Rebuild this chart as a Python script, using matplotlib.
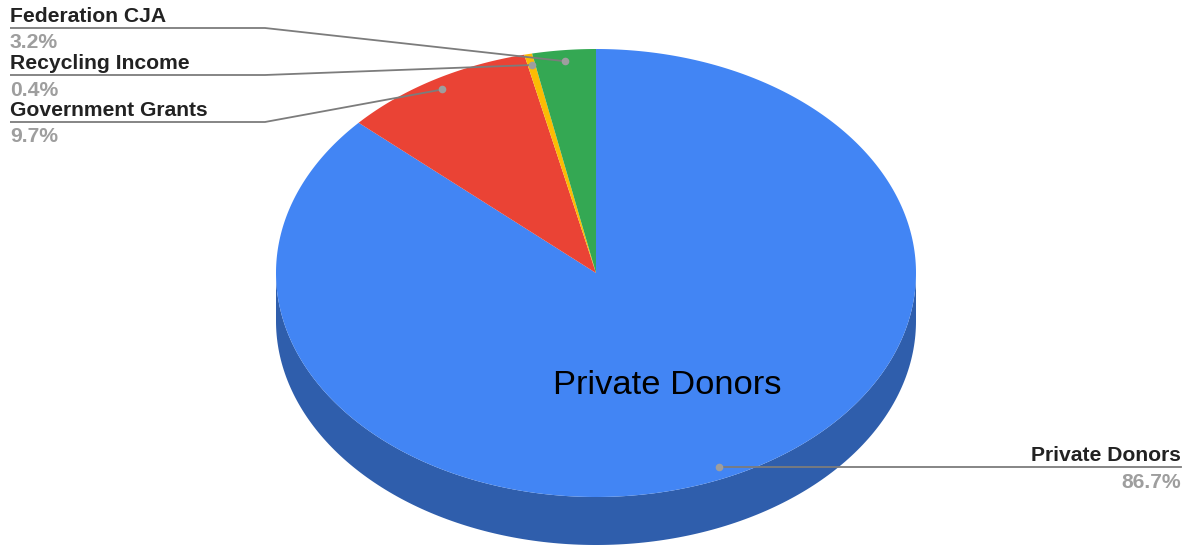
import numpy as np
import matplotlib.pyplot as plt
from matplotlib.patches import Polygon

# Funding sources, share of total income (%)
labels = ['Private Donors', 'Government Grants', 'Recycling Income', 'Federation CJA']
shares = [86.7, 9.7, 0.4, 3.2]

colors = ['#4285f4', '#ea4335', '#fbbc04', '#34a853']
side_colors = ['#2f5eac', '#a52f25', '#b28503', '#25773b']

W, H = 1191, 548
cx, cy = 596, 273          # centre of the top face (pixels)
rx, ry = 320, 224          # ellipse radii
depth = 48                 # thickness of the disc

fig = plt.figure(figsize=(W / 100, H / 100), dpi=100)
ax = fig.add_axes([0, 0, 1, 1])
ax.set_xlim(0, W)
ax.set_ylim(H, 0)
ax.axis('off')

FONT = 'Liberation Sans'


def rim(t, f=1.0, dy=0.0):
    return cx + f * rx * np.cos(t), cy - f * ry * np.sin(t) + dy


fracs = np.array(shares) / sum(shares)
ends = np.radians(90 - 360 * np.cumsum(fracs))
starts = np.concatenate([[np.pi / 2], ends[:-1]])
mids = (starts + ends) / 2

# side wall: only the front half of the disc is visible
for s, e, c in zip(starts, ends, side_colors):
    for k in (-1, 0, 1):
        lo = max(e, -np.pi + 2 * np.pi * k)
        hi = min(s, 2 * np.pi * k)
        if hi <= lo:
            continue
        t = np.linspace(lo, hi, 200)
        x1, y1 = rim(t)
        x2, y2 = rim(t[::-1], dy=depth)
        pts = np.column_stack([np.r_[x1, x2], np.r_[y1, y2]])
        ax.add_patch(Polygon(pts, closed=True, fc=c, ec='none', zorder=1))

# top face wedges
for s, e, c in zip(starts, ends, colors):
    t = np.linspace(s, e, 400)
    x, y = rim(t)
    pts = np.column_stack([np.r_[cx, x], np.r_[cy, y]])
    ax.add_patch(Polygon(pts, closed=True, fc=c, ec='none', zorder=2))

# label inside the large slice
for lab, v, m in zip(labels, shares, mids):
    if v >= 20:
        tx, ty = rim(m, f=0.55)
        ax.text(tx, ty, lab, fontsize=24.8, family=FONT, color='#000000',
                ha='center', va='center', zorder=5)

# leader lines with labels
left_rows = {'Federation CJA': 28, 'Recycling Income': 75, 'Government Grants': 122}
line_c = '#7c7c7c'
dot_c = '#9e9e9e'
for lab, v, m in zip(labels, shares, mids):
    dx, dy = rim(m, f=0.95)
    pct = '{:.1f}%'.format(v)
    if lab in left_rows:
        ly = left_rows[lab]
        ax.plot([10, 265, dx], [ly, ly, dy], color=line_c, lw=1.3,
                solid_capstyle='butt', zorder=6)
        tx, ha = 10, 'left'
    else:
        ly = dy
        ax.plot([dx, 1181], [ly, ly], color=line_c, lw=1.3, zorder=6)
        tx, ha = 1181, 'right'
    ax.plot(dx, dy, 'o', ms=5.5, color=dot_c, mec='none', zorder=7)
    ax.text(tx, ly - 6, lab, fontsize=15.2, family=FONT, weight='bold',
            color='#222222', ha=ha, va='baseline', zorder=6)
    ax.text(tx, ly + 20.5, pct, fontsize=15.2, family=FONT, weight='bold',
            color='#9e9e9e', ha=ha, va='baseline', zorder=6)

fig.savefig('out.png', dpi=100)
